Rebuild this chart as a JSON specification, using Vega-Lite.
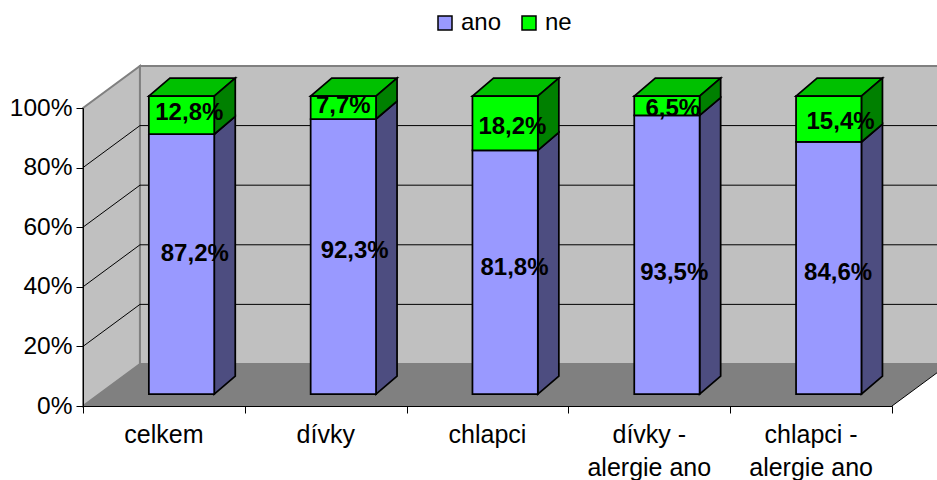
{
  "$schema": "https://vega.github.io/schema/vega-lite/v6.json",
  "description": "Stacked percentage columns of ano / ne answers per group, drawn as an oblique 3D box chart.",
  "width": 809,
  "height": 298,
  "autosize": {"type": "none"},
  "padding": {"left": 83, "top": 108, "right": 45, "bottom": 74},
  "background": "white",
  "config": {
    "view": {"stroke": null},
    "font": "Liberation Sans",
    "text": {"font": "Liberation Sans"}
  },
  "params": [
    {"name": "groups", "value": ["celkem", "dívky", "chlapci", "dívky - alergie ano", "chlapci - alergie ano"]},
    {"name": "wallDx", "value": 0.352},
    {"name": "wallDy", "value": 14.1},
    {"name": "halfW", "value": 0.202},
    {"name": "frontDx", "value": 0.109},
    {"name": "backDx", "value": 0.239},
    {"name": "frontDy", "value": 4.0},
    {"name": "backDy", "value": 10.0},
    {"name": "nudgeX", "value": {"ano": [0.082, 0.07, 0.058, 0.045, 0.058], "ne": [0.048, 0.0, 0.045, 0.036, 0.073]}},
    {"name": "nudgeY", "value": {"ano": [3.7, 2.3, 1.6, -5.7, -1.2], "ne": [1.0, 0.7, -1.0, -0.7, -0.5]}}
  ],
  "data": {
    "values": [
      {"group": "celkem", "series": "ano", "value": 87.2},
      {"group": "celkem", "series": "ne", "value": 12.8},
      {"group": "dívky", "series": "ano", "value": 92.3},
      {"group": "dívky", "series": "ne", "value": 7.7},
      {"group": "chlapci", "series": "ano", "value": 81.8},
      {"group": "chlapci", "series": "ne", "value": 18.2},
      {"group": "dívky - alergie ano", "series": "ano", "value": 93.5},
      {"group": "dívky - alergie ano", "series": "ne", "value": 6.5},
      {"group": "chlapci - alergie ano", "series": "ano", "value": 84.6},
      {"group": "chlapci - alergie ano", "series": "ne", "value": 15.4}
    ]
  },
  "transform": [
    {"stack": "value", "groupby": ["group"], "sort": [{"field": "series", "order": "ascending"}], "as": ["from", "to"]},
    {"calculate": "indexof(groups, datum.group) + 0.5", "as": "mid"}
  ],
  "layer": [
    {
      "data": {"values": [{"depth": 0, "low": 0, "high": 100}, {"depth": 1, "low": 0, "high": 100}]},
      "transform": [
        {"calculate": "datum.depth * wallDx", "as": "wx"},
        {"calculate": "datum.low + datum.depth * wallDy", "as": "wlow"},
        {"calculate": "datum.high + datum.depth * wallDy", "as": "whigh"}
      ],
      "mark": {"type": "area", "fill": "#c0c0c0", "opacity": 1, "stroke": "#808080", "strokeWidth": 2},
      "encoding": {
        "x": {
          "field": "wx", "type": "quantitative",
          "scale": {"domain": [0, 5], "nice": false, "zero": false},
          "axis": {"values": [0, 1, 2, 3, 4, 5], "labels": false, "title": null, "grid": false, "tickSize": 7, "tickColor": "black", "domainColor": "black", "zindex": 1}
        },
        "y": {
          "field": "wlow", "type": "quantitative",
          "scale": {"domain": [0, 100], "nice": false, "zero": false},
          "stack": null,
          "axis": {"values": [0, 20, 40, 60, 80, 100], "labelExpr": "datum.value + '%'", "labelFontSize": 24.5, "labelColor": "black", "labelPadding": 4, "title": null, "grid": false, "tickSize": 7, "tickColor": "black", "domainColor": "black", "zindex": 1}
        },
        "y2": {"field": "whigh"}
      }
    },
    {
      "data": {"values": [{"low": 0, "high": 100}]},
      "transform": [
        {"calculate": "wallDx", "as": "xa"},
        {"calculate": "5 + wallDx", "as": "xb"},
        {"calculate": "datum.low + wallDy", "as": "ya"},
        {"calculate": "datum.high + wallDy", "as": "yb"}
      ],
      "mark": {"type": "rect", "fill": "#c0c0c0", "stroke": "#808080", "strokeWidth": 2},
      "encoding": {
        "x": {"field": "xa", "type": "quantitative"},
        "x2": {"field": "xb"},
        "y": {"field": "ya", "type": "quantitative"},
        "y2": {"field": "yb"}
      }
    },
    {
      "data": {"values": [{"depth": 0}, {"depth": 1}]},
      "transform": [
        {"calculate": "datum.depth * wallDx", "as": "xa"},
        {"calculate": "5 + datum.depth * wallDx", "as": "xb"},
        {"calculate": "datum.depth * wallDy", "as": "ya"}
      ],
      "mark": {"type": "area", "orient": "horizontal", "fill": "#808080", "opacity": 1},
      "encoding": {
        "y": {"field": "ya", "type": "quantitative"},
        "x": {"field": "xa", "type": "quantitative", "stack": null},
        "x2": {"field": "xb"}
      }
    },
    {
      "data": {"values": [{"level": 20}, {"level": 40}, {"level": 60}, {"level": 80}]},
      "transform": [
        {"calculate": "wallDx", "as": "xa"},
        {"calculate": "5 + wallDx", "as": "xb"},
        {"calculate": "datum.level + wallDy", "as": "ya"}
      ],
      "mark": {"type": "rule", "color": "black", "strokeWidth": 1},
      "encoding": {
        "x": {"field": "xa", "type": "quantitative"},
        "x2": {"field": "xb"},
        "y": {"field": "ya", "type": "quantitative"}
      }
    },
    {
      "data": {"values": [{"level": 20, "x0": 0}, {"level": 40, "x0": 0}, {"level": 60, "x0": 0}, {"level": 80, "x0": 0}, {"level": 0, "x0": 5}]},
      "transform": [
        {"calculate": "datum.x0 + wallDx", "as": "xb"},
        {"calculate": "datum.level + wallDy", "as": "yb"}
      ],
      "mark": {"type": "rule", "color": "black", "strokeWidth": 1},
      "encoding": {
        "x": {"field": "x0", "type": "quantitative"},
        "x2": {"field": "xb"},
        "y": {"field": "level", "type": "quantitative"},
        "y2": {"field": "yb"}
      }
    },
    {
      "transform": [
        {"filter": "datum.series === 'ne'"},
        {"calculate": "[0, 1]", "as": "depth"},
        {"flatten": ["depth"]},
        {"calculate": "datum.mid - halfW + frontDx + datum.depth * (backDx - frontDx)", "as": "xa"},
        {"calculate": "datum.mid + halfW + frontDx + datum.depth * (backDx - frontDx)", "as": "xb"},
        {"calculate": "datum.to + frontDy + datum.depth * (backDy - frontDy)", "as": "ya"}
      ],
      "mark": {"type": "area", "orient": "horizontal", "fill": "#00c000", "opacity": 1, "stroke": "black", "strokeWidth": 1.75},
      "encoding": {
        "detail": {"field": "group"},
        "y": {"field": "ya", "type": "quantitative"},
        "x": {"field": "xa", "type": "quantitative", "stack": null},
        "x2": {"field": "xb"}
      }
    },
    {
      "transform": [
        {"calculate": "[0, 1]", "as": "depth"},
        {"flatten": ["depth"]},
        {"calculate": "datum.mid + halfW + frontDx + datum.depth * (backDx - frontDx)", "as": "xa"},
        {"calculate": "datum.from + frontDy + datum.depth * (backDy - frontDy)", "as": "ya"},
        {"calculate": "datum.to + frontDy + datum.depth * (backDy - frontDy)", "as": "yb"}
      ],
      "mark": {"type": "area", "opacity": 1, "stroke": "black", "strokeWidth": 1.75},
      "encoding": {
        "detail": [{"field": "group"}, {"field": "series"}],
        "x": {"field": "xa", "type": "quantitative"},
        "y": {"field": "ya", "type": "quantitative", "stack": null},
        "y2": {"field": "yb"},
        "fill": {"condition": {"test": "datum.series === 'ano'", "value": "#4d4d80"}, "value": "#008000"}
      }
    },
    {
      "transform": [
        {"calculate": "datum.mid - halfW + frontDx", "as": "xa"},
        {"calculate": "datum.mid + halfW + frontDx", "as": "xb"},
        {"calculate": "datum.from + frontDy", "as": "ya"},
        {"calculate": "datum.to + frontDy", "as": "yb"}
      ],
      "mark": {"type": "rect", "stroke": "black", "strokeWidth": 1.75},
      "encoding": {
        "x": {"field": "xa", "type": "quantitative"},
        "x2": {"field": "xb"},
        "y": {"field": "ya", "type": "quantitative"},
        "y2": {"field": "yb"},
        "color": {
          "field": "series", "type": "nominal",
          "scale": {"domain": ["ano", "ne"], "range": ["#9999ff", "#00ff00"]},
          "legend": {
            "orient": "none", "legendX": 350, "legendY": -97, "direction": "horizontal", "title": null,
            "symbolType": "square", "symbolSize": 196, "symbolStrokeColor": "black", "symbolStrokeWidth": 1.5,
            "labelFontSize": 24, "labelColor": "black", "labelOffset": 4, "columnPadding": 15
          }
        }
      }
    },
    {
      "transform": [
        {"calculate": "datum.mid + frontDx + nudgeX[datum.series][indexof(groups, datum.group)]", "as": "lx"},
        {"calculate": "(datum.from + datum.to) / 2 + frontDy + nudgeY[datum.series][indexof(groups, datum.group)]", "as": "ly"},
        {"calculate": "replace(format(datum.value, '.1f'), '.', ',') + '%'", "as": "share"}
      ],
      "mark": {"type": "text", "fontSize": 24, "fontWeight": "bold", "color": "black", "baseline": "middle", "dy": 1},
      "encoding": {
        "x": {"field": "lx", "type": "quantitative"},
        "y": {"field": "ly", "type": "quantitative"},
        "text": {"field": "share"}
      }
    },
    {
      "transform": [
        {"filter": "datum.series === 'ano'"},
        {"calculate": "replace(datum.group, ' - ', ' -\\n')", "as": "caption"},
        {"calculate": "0", "as": "base"}
      ],
      "mark": {"type": "text", "fontSize": 25, "color": "black", "baseline": "alphabetic", "dy": 37, "lineBreak": "\n", "lineHeight": 33},
      "encoding": {
        "x": {"field": "mid", "type": "quantitative"},
        "y": {"field": "base", "type": "quantitative"},
        "text": {"field": "caption"}
      }
    }
  ]
}
